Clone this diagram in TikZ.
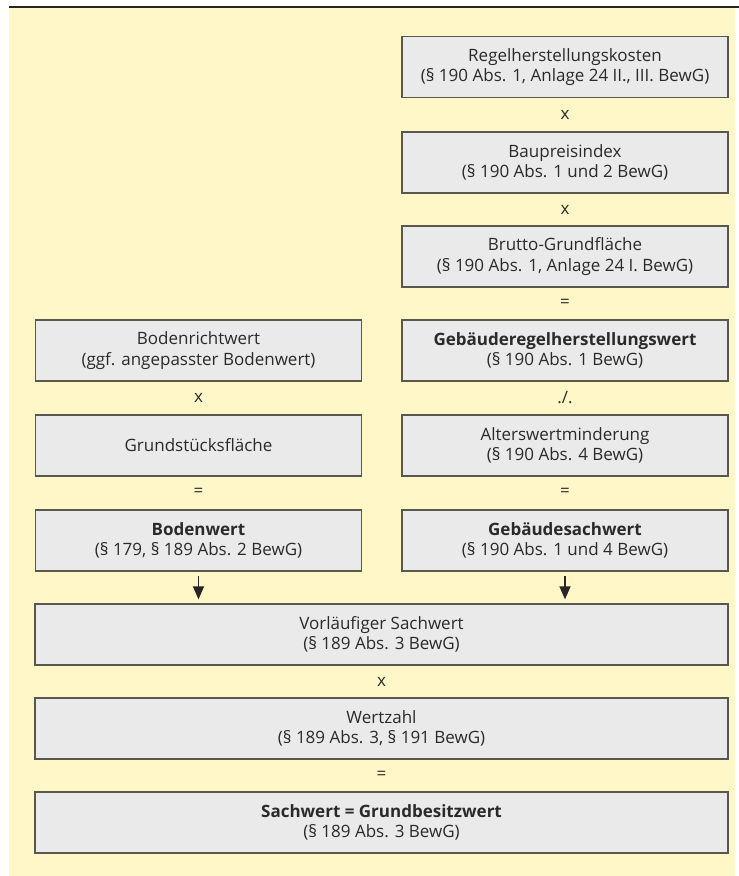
\documentclass[tikz,border=0pt]{standalone}
\usepackage{fontspec}
\setmainfont{Open Sans}
\usepackage{tikz}
\usetikzlibrary{arrows.meta}
\definecolor{paper}{HTML}{FFF7C8}
\definecolor{boxgray}{HTML}{EAEAEA}
\definecolor{rimgray}{HTML}{58584F}
\definecolor{inkgray}{HTML}{2A2A2A}
\tikzset{
	calcbox/.style={draw=rimgray, fill=boxgray, line width=1.3pt, minimum height=61pt,
		align=center, text=inkgray, inner sep=0pt, font=\fontsize{17}{20.5}\selectfont},
	smallbox/.style={calcbox, minimum width=326pt},
	widebox/.style={calcbox, minimum width=693pt},
	op/.style={text=inkgray, inner sep=0pt, font=\fontsize{17}{20}\selectfont},
	down/.style={-{Triangle[length=13pt,width=11pt]}, line width=1.3pt, black!85,
		shorten <=4pt, shorten >=4pt},
}

\begin{document}
\begin{tikzpicture}[x=1pt,y=-1pt]
		\useasboundingbox (0,0) rectangle (739,876);
		% background
		\fill[paper] (9,8) rectangle (735,876);
		\draw[line width=2.5pt, black!85] (9,7) -- (739,7);

		% building value
		\node[smallbox] (rhk) at (565,67) {Regelherstellungskosten\\(§ 190 Abs. 1, Anlage 24 II., III. BewG)};
		\node[op] (opa) at (565,115) {x};
		\node[smallbox] (bpi) at (565,162.5) {Baupreisindex\\(§ 190 Abs. 1 und 2 BewG)};
		\node[op] (opb) at (565,210) {x};
		\node[smallbox] (bgf) at (565,256.5) {Brutto-Grundfläche\\(§ 190 Abs. 1, Anlage 24 I. BewG)};
		\node[op] (opc) at (565,303) {=};
		\node[smallbox] (grw) at (565,350.5) {\textbf{Gebäuderegelherstellungswert}\\(§ 190 Abs. 1 BewG)};
		\node[op] (opd) at (565,398) {./.};
		\node[smallbox] (awm) at (565,445.5) {Alterswertminderung\\(§ 190 Abs. 4 BewG)};
		\node[op] (ope) at (565,492) {=};
		\node[smallbox] (gsw) at (565,540.5) {\textbf{Gebäudesachwert}\\(§ 190 Abs. 1 und 4 BewG)};

		% land value
		\node[smallbox] (brw) at (198.5,350.5) {Bodenrichtwert\\(ggf. angepasster Bodenwert)};
		\node[op] (opf) at (198.5,398) {x};
		\node[smallbox] (gsf) at (198.5,445.5) {Grundstücksfläche};
		\node[op] (opg) at (198.5,492) {=};
		\node[smallbox] (bw) at (198.5,540.5) {\textbf{Bodenwert}\\(§ 179, § 189 Abs. 2 BewG)};

		% result
		\node[widebox] (vsw) at (381.5,634.5) {Vorläufiger Sachwert\\(§ 189 Abs. 3 BewG)};
		\node[op] (oph) at (381.5,682) {x};
		\node[widebox] (wz) at (381.5,728.5) {Wertzahl\\(§ 189 Abs. 3, § 191 BewG)};
		\node[op] (opi) at (381.5,775) {=};
		\node[widebox] (sw) at (381.5,822.5) {\textbf{Sachwert = Grundbesitzwert}\\(§ 189 Abs. 3 BewG)};

		\draw[down] (bw.south) -- (bw.south |- vsw.north);
		\draw[down] (gsw.south) -- (gsw.south |- vsw.north);
\end{tikzpicture}
\end{document}
